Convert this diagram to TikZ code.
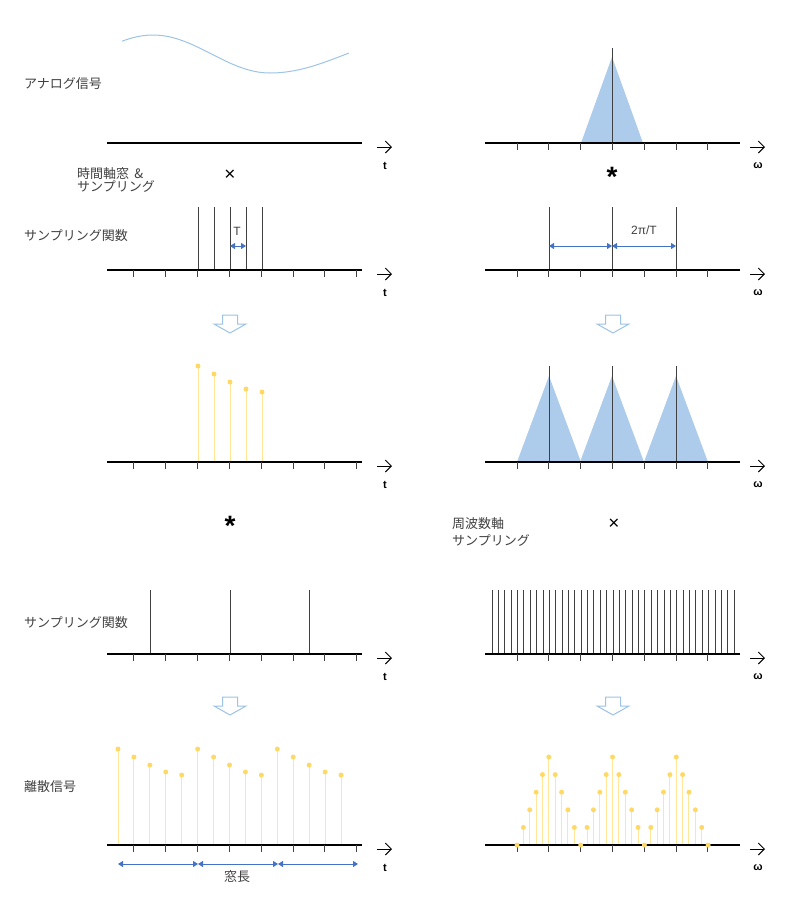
\documentclass[tikz,border=0pt]{standalone}
\usepackage{fontspec}
\setmainfont{Liberation Sans}
\newfontfamily\jpfont{Noto Sans CJK JP}
\usetikzlibrary{arrows.meta, positioning, calc}
\definecolor{lineGray}{HTML}{404040}
\definecolor{textGray}{HTML}{3F3F3F}
\definecolor{waveBlue}{HTML}{9DC3E6}
\definecolor{specBlue}{HTML}{ADCBEA}
\definecolor{dimBlue}{HTML}{4472C4}
\definecolor{stemYellow}{HTML}{FFE699}
\definecolor{dotYellow}{HTML}{FFD966}
\tikzset{
  axline/.style={line width=2.6pt, black},
  dirarrow/.style={-{Straight Barb[length=6pt, width=12pt]}, line width=0.9pt},
  axtick/.style={line width=0.8pt, lineGray},
  pulse/.style={line width=0.9pt, lineGray},
  stem/.style={line width=1pt, stemYellow},
  analog/.style={line width=1pt, waveBlue},
  spectrum/.style={fill=specBlue},
  dimarrow/.style={{Triangle[length=5pt, width=6pt]}-{Triangle[length=5pt, width=6pt]},
                   dimBlue, line width=1pt},
  jplabel/.style={font=\jpfont\fontsize{13}{13}\selectfont, text=textGray,
                  align=left, anchor=west, inner sep=0pt},
  varlabel/.style={font=\bfseries\fontsize{11}{11}\selectfont, inner sep=0pt},
  dimlabel/.style={font=\fontsize{12}{12}\selectfont, text=textGray, inner sep=0pt},
  opsign/.style={font=\fontsize{19}{19}\selectfont, inner sep=0pt},
  convsign/.style={font=\bfseries\fontsize{28}{28}\selectfont, inner sep=0pt},
  flowarrow/.style={draw=waveBlue, fill=white, line width=1pt},
  downarrow/.pic={\draw[flowarrow] (-7.5,-9) -- (7.5,-9) -- (7.5,0) -- (16,0)
                   -- (0,9) -- (-16,0) -- (-7.5,0) -- cycle;},
}

\begin{document}
\begin{tikzpicture}[x=1pt, y=-1pt]
  \useasboundingbox (0,0) rectangle (800,906);

  % axis end points of the five stages
  \foreach \r/\y in {1/143, 2/270, 3/462, 4/654, 5/845} {
    \coordinate (l\r) at (107,\y);  \coordinate (l\r e) at (362,\y);
    \coordinate (r\r) at (485,\y);  \coordinate (r\r e) at (740,\y);
  }

  % stage 1: analog signal and its spectrum
  \draw[analog] plot[domain=122:270, samples=40] (\x, {54-19*cos(1.5385*(\x-153))})
    -- plot[domain=270:349, samples=25] (\x, {73-18.45*(1-cos(1.2*(\x-270)))});
  \fill[spectrum] (581,143) -- (612,57) -- (643,143) -- cycle;
  \draw[pulse] (612,48) -- (612,143);

  % stage 2: sampling functions
  \foreach \x in {198,214,...,262} \draw[pulse] (\x,207) -- (\x,270);
  \coordinate (tA) at (230,246); \coordinate (tB) at (246,246);
  \draw[dimarrow] (tA) -- (tB);
  \node[dimlabel] (tT) at (237,231) {T};
  \foreach \x in {549,612,676} \draw[pulse] (\x,207) -- (\x,270);
  \coordinate (wA) at (549,246); \coordinate (wB) at (612,246); \coordinate (wC) at (676,246);
  \draw[dimarrow] (wA) -- (wB);
  \draw[dimarrow] (wB) -- (wC);
  \node[dimlabel] (wT) at (644,230) {2π/T};

  % stage 3: windowed samples and periodic spectrum
  \foreach \x/\h in {198/96, 214/88, 230/80, 246/73, 262/70} {
    \draw[stem] (\x,462) -- ++(0,-\h) coordinate (s);
    \fill[dotYellow] (s) circle (2.5);
  }
  \foreach \c in {549,612,676} {
    \fill[spectrum] (\c-32,462) -- (\c,376) -- (\c+32,462) -- cycle;
    \draw[pulse] (\c,366) -- (\c,462);
  }

  % stage 4: window repetition and frequency sampling
  \foreach \x in {150,230,309} \draw[pulse] (\x,590) -- (\x,654);
  \foreach \k in {0,...,38} \draw[pulse] (492+6.37*\k,590) -- ++(0,64);

  % stage 5: discrete signal and discrete spectrum
  \foreach \k in {0,...,14} {
    \pgfmathsetmacro\h{{96,88,80,73,70}[mod(\k,5)]}
    \draw[stem] (118+15.93*\k,845) -- ++(0,-\h) coordinate (s);
    \fill[dotYellow] (s) circle (2.5);
  }
  \foreach \j in {1,...,29} {
    \pgfmathsetmacro\h{17.6*(5-abs(5-mod(\j,10)))}
    \draw[stem] (517+6.37*\j,845) -- ++(0,-\h);
  }
  \coordinate (nA) at (118,864); \coordinate (nB) at (198,864);
  \coordinate (nC) at (278,864); \coordinate (nD) at (358,864);
  \draw[dimarrow] (nA) -- (nB);
  \draw[dimarrow] (nB) -- (nC);
  \draw[dimarrow] (nC) -- (nD);
  \node[dimlabel, font=\jpfont\fontsize{13}{13}\selectfont] (winlen) at (237,877) {窓長};

  % axes
  \foreach \r in {1,...,5} {
    \draw[axline] (l\r) -- (l\r e);
    \draw[axline] (r\r) -- (r\r e);
    \draw[dirarrow] ($(l\r e)+(15,4)$) -- ++(15,0);
    \draw[dirarrow] ($(r\r e)+(10,4)$) -- ++(15,0);
    \node[varlabel] (lt\r) at ($(l\r e)+(23,23)$) {t};
    \node[varlabel] (rw\r) at ($(r\r e)+(18,23)$) {ω};
    \foreach \k in {0,...,6} \draw[axtick] ($(r\r)+(32+31.8*\k,0)$) -- ++(0,7);
  }
  \foreach \r in {2,...,5} \foreach \k in {0,...,7}
    \draw[axtick] ($(l\r)+(26.4+31.9*\k,0)$) -- ++(0,7);
  \foreach \j in {0,...,30} {
    \pgfmathsetmacro\h{17.6*(5-abs(5-mod(\j,10)))}
    \fill[dotYellow] (517+6.37*\j,845-\h) circle (2.5);
  }

  % flow arrows
  \pic at (230,324) {downarrow};
  \pic at (613,324) {downarrow};
  \pic at (230,706) {downarrow};
  \pic at (613,706) {downarrow};

  % labels and operators
  \node[jplabel] (analogtxt) at (24,84) {アナログ信号};
  \node[jplabel] (window) at (77,180) {時間軸窓 \,\&\\サンプリング};
  \node[jplabel] (samp1) at (24,236) {サンプリング関数};
  \node[jplabel] (freq) at (452,532) {周波数軸\\[4pt]サンプリング};
  \node[jplabel] (samp2) at (24,623) {サンプリング関数};
  \node[jplabel] (discrete) at (24,787) {離散信号};
  \node[opsign] (mul1) at (230,175) {×};
  \node[opsign] (mul2) at (614,524) {×};
  \node[convsign] (conv1) at (612,177) {\raisebox{-0.35em}{*}};
  \node[convsign] (conv2) at (230,526) {\raisebox{-0.35em}{*}};
\end{tikzpicture}
\end{document}
